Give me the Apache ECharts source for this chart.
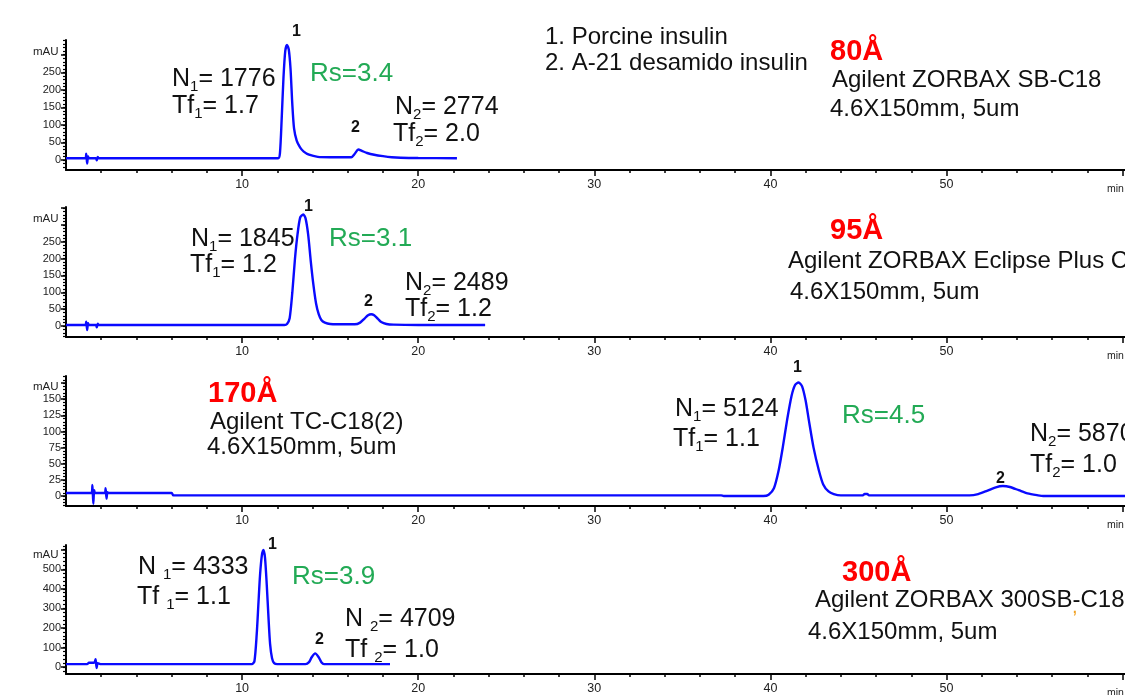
<!DOCTYPE html>
<html><head><meta charset="utf-8">
<script src="https://cdn.jsdelivr.net/npm/echarts@6/dist/echarts.min.js"></script>
<style>html,body{margin:0;padding:0;background:#fff}#c{width:1125px;height:695px}</style>
</head><body><div id="c"></div>
<script>
// ---- data: [time (min), absorbance (mAU)] ----
const trace80 = [[0,5],[1.1,5],[1.15,18],[1.2,-10],[1.25,10],[1.3,5],[1.7,5],[1.75,-1],[1.8,9],[1.85,5],[12.05,5],[12.15,20],[12.25,120],[12.35,235],[12.45,310],[12.55,328],[12.65,315],[12.75,260],[12.85,160],[12.95,90],[13.1,55],[13.3,35],[13.5,24],[13.8,15],[14.3,9],[15,8],[16.2,8],[16.4,18],[16.6,30],[16.8,26],[17.1,20],[17.5,15],[18,11],[18.5,8],[19,6.5],[20,5.5],[22.2,5]];
const trace95 = [[0,3],[1.1,3],[1.15,13],[1.2,-12],[1.25,8],[1.3,3],[1.7,3],[1.75,-4],[1.8,7],[1.85,3],[12.4,3],[12.55,6],[12.7,23],[12.85,98],[13.0,198],[13.15,273],[13.3,322],[13.47,331],[13.6,320],[13.75,272],[13.9,192],[14.05,122],[14.2,67],[14.35,35],[14.5,18],[14.7,10],[15,6],[16,5],[16.4,5],[16.7,10],[16.95,22],[17.15,32],[17.33,35],[17.5,32],[17.7,22],[17.9,12],[18.2,6],[18.6,4],[20,3],[23.8,3]];
const trace170 = [[0,4.7],[1.45,4.7],[1.5,17],[1.55,-12],[1.6,9],[1.65,4.7],[2.2,4.7],[2.25,12],[2.3,-4],[2.35,6],[2.4,4.7],[6.0,4.7],[6.1,1],[37.2,1],[37.35,0],[39.6,0],[39.9,2],[40.2,12],[40.47,40],[40.7,75],[40.95,118],[41.2,155],[41.4,172],[41.6,176],[41.8,170],[42.0,148],[42.18,118],[42.45,75],[42.75,40],[43.0,18],[43.3,7],[43.6,3],[44,1],[45.25,1],[45.35,3],[45.5,3],[45.6,1],[51.3,1],[51.8,3],[52.3,8],[52.8,13.5],[53.2,15.5],[53.6,14],[54.1,9],[54.6,4],[55.2,1],[55.5,0],[61,0]];
const trace300 = [[0,15],[1.2,15],[1.3,22],[1.6,22],[1.68,40],[1.74,-5],[1.8,20],[2.0,15],[10.55,15],[10.7,30],[10.83,168],[10.93,330],[11.02,472],[11.12,570],[11.21,599],[11.3,560],[11.4,421],[11.5,250],[11.59,117],[11.7,45],[11.82,20],[12,15],[13.6,15],[13.8,25],[13.95,50],[14.15,70],[14.35,50],[14.5,25],[14.65,15],[18.4,15]];

// ---- tick labels ----
const xLabels = [10, 20, 30, 40, 50];
const xMajorTicks = [10, 20, 30, 40, 50, 60];
const yLabels80 = [0, 50, 100, 150, 200, 250];
const yLabels95 = [0, 50, 100, 150, 200, 250];
const yLabels170 = [0, 25, 50, 75, 100, 125, 150];
const yLabels300 = [0, 100, 200, 300, 400, 500];

const FONT = '"Liberation Sans", Arial, sans-serif';
const GRID_LEFT = 66;
const PX_PER_MIN = 17.61;
const XMAX = (1125 - GRID_LEFT) / PX_PER_MIN;

function range(a, b, step) { const r = []; for (let v = a; v <= b + 1e-9; v += step) r.push(+v.toFixed(4)); return r; }

const panels = [
  { top: 40,  height: 130, ymin: -28.5, ymax: 342, labels: yLabels80,  step: 50,  minor: 10, data: trace80 },
  { top: 207, height: 130, ymin: -32.6, ymax: 353, labels: yLabels95,  step: 50,  minor: 10, data: trace95 },
  { top: 376, height: 130, ymin: -15.5, ymax: 186, labels: yLabels170, step: 25,  minor: 5,  data: trace170 },
  { top: 545, height: 130, ymin: -35.5, ymax: 624, labels: yLabels300, step: 100, minor: 20, data: trace300 }
];

const grid = [], xAxis = [], yAxis = [], series = [];
panels.forEach((p, i) => {
  grid.push({ left: GRID_LEFT, right: 0, top: p.top, height: p.height });
  const majorY = range(0, p.ymax, p.step);
  const minorY = range(Math.ceil(p.ymin / p.minor) * p.minor, p.ymax, p.minor);
  xAxis.push({
    gridIndex: i, type: 'value', min: 0, max: XMAX, position: 'bottom',
    axisLine: { onZero: false, lineStyle: { color: '#000', width: 2 } },
    axisTick: { customValues: xMajorTicks, length: 6, lineStyle: { color: '#000', width: 1.5 } },
    axisLabel: { customValues: xLabels, color: '#222', fontSize: 12.5, fontFamily: FONT, margin: 8 },
    splitLine: { show: false }
  });
  xAxis.push({
    gridIndex: i, type: 'value', min: 0, max: XMAX, position: 'bottom',
    axisLine: { show: false, onZero: false },
    axisTick: { customValues: range(2, 60, 2), length: 3, lineStyle: { color: '#000', width: 1.5 } },
    axisLabel: { show: false }, splitLine: { show: false }
  });
  yAxis.push({
    gridIndex: i, type: 'value', min: p.ymin, max: p.ymax, position: 'left',
    axisLine: { onZero: false, lineStyle: { color: '#000', width: 2 } },
    axisTick: { customValues: majorY, length: 5, lineStyle: { color: '#000', width: 1.5 } },
    axisLabel: { customValues: p.labels, color: '#222', fontSize: 11, fontFamily: FONT, margin: 5 },
    splitLine: { show: false }
  });
  yAxis.push({
    gridIndex: i, type: 'value', min: p.ymin, max: p.ymax, position: 'left',
    axisLine: { show: false, onZero: false },
    axisTick: { customValues: minorY, length: 3, lineStyle: { color: '#000', width: 1.2 } },
    axisLabel: { show: false }, splitLine: { show: false }
  });
  series.push({
    type: 'line', xAxisIndex: 2 * i, yAxisIndex: 2 * i, data: p.data,
    showSymbol: false, smooth: 0.25, lineStyle: { color: '#0a0aff', width: 2.4 }, silent: true
  });
});

// ---- annotations ----
const BLACK = '#111', GREEN = '#22aa55', RED = '#ff0000';
const g = [];
function txt(x, y, text, size, color, bold) {
  g.push({ type: 'text', x: x, y: y, silent: true,
    style: { text: text, fill: color || BLACK, font: (bold ? 'bold ' : '') + size + 'px ' + FONT, verticalAlign: 'middle', align: 'left' } });
}
function sub(x, y, pre, s, post) {
  g.push({ type: 'text', x: x, y: y, silent: true,
    style: { text: '{a|' + pre + '}{b|' + s + '}{a|' + post + '}', verticalAlign: 'middle', align: 'left',
      rich: { a: { fontSize: 25, fontFamily: FONT, fill: BLACK, lineHeight: 30 },
              b: { fontSize: 15, fontFamily: FONT, fill: BLACK, lineHeight: 15, verticalAlign: 'bottom' } } } });
}
// mAU labels
[52, 219, 387, 555].forEach(y => txt(33, y, 'mAU', 11.5, '#222'));
// min labels
[189, 356, 525, 693].forEach(y => txt(1107, y, 'min', 10.5, '#222'));

// panel 1
txt(292, 32, '1', 16, BLACK, true);
sub(172, 79, 'N', '1', '= 1776');
sub(172, 106, 'Tf', '1', '= 1.7');
txt(310, 74, 'Rs=3.4', 26, GREEN);
txt(351, 128, '2', 16, BLACK, true);
sub(395, 107, 'N', '2', '= 2774');
sub(393, 134, 'Tf', '2', '= 2.0');
txt(545, 37, '1. Porcine insulin', 24, BLACK);
txt(545, 63, '2. A-21 desamido insulin', 24, BLACK);
txt(830, 52, '80Å', 29, RED, true);
txt(832, 80, 'Agilent ZORBAX SB-C18', 24, BLACK);
txt(830, 109, '4.6X150mm, 5um', 24, BLACK);

// panel 2
txt(304, 207, '1', 16, BLACK, true);
sub(191, 239, 'N', '1', '= 1845');
sub(190, 265, 'Tf', '1', '= 1.2');
txt(329, 239, 'Rs=3.1', 26, GREEN);
txt(364, 302, '2', 16, BLACK, true);
sub(405, 283, 'N', '2', '= 2489');
sub(405, 309, 'Tf', '2', '= 1.2');
txt(830, 231, '95Å', 29, RED, true);
txt(788, 261, 'Agilent ZORBAX Eclipse Plus C18', 24, BLACK);
txt(790, 292, '4.6X150mm, 5um', 24, BLACK);

// panel 3
txt(208, 394, '170Å', 29, RED, true);
txt(210, 422, 'Agilent TC-C18(2)', 24, BLACK);
txt(207, 447, '4.6X150mm, 5um', 24, BLACK);
txt(793, 368, '1', 16, BLACK, true);
sub(675, 409, 'N', '1', '= 5124');
sub(673, 439, 'Tf', '1', '= 1.1');
txt(842, 416, 'Rs=4.5', 26, GREEN);
sub(1030, 434, 'N', '2', '= 5870');
sub(1030, 465, 'Tf', '2', '= 1.0');
txt(996, 479, '2', 16, BLACK, true);

// panel 4
txt(268, 545, '1', 16, BLACK, true);
sub(138, 567, 'N ', '1', '= 4333');
sub(137, 597, 'Tf ', '1', '= 1.1');
txt(292, 577, 'Rs=3.9', 26, GREEN);
txt(315, 640, '2', 16, BLACK, true);
sub(345, 619, 'N ', '2', '= 4709');
sub(345, 650, 'Tf ', '2', '= 1.0');
txt(842, 573, '300Å', 29, RED, true);
txt(815, 600, 'Agilent ZORBAX 300SB-C18', 24, BLACK);
txt(1072, 607, ',', 20, '#f0a020');
txt(808, 632, '4.6X150mm, 5um', 24, BLACK);

const chart = echarts.init(document.getElementById('c'), null, { renderer: 'canvas' });
chart.setOption({
  animation: false, backgroundColor: '#fff',
  grid, xAxis, yAxis, series,
  graphic: { elements: g }
});
</script></body></html>
